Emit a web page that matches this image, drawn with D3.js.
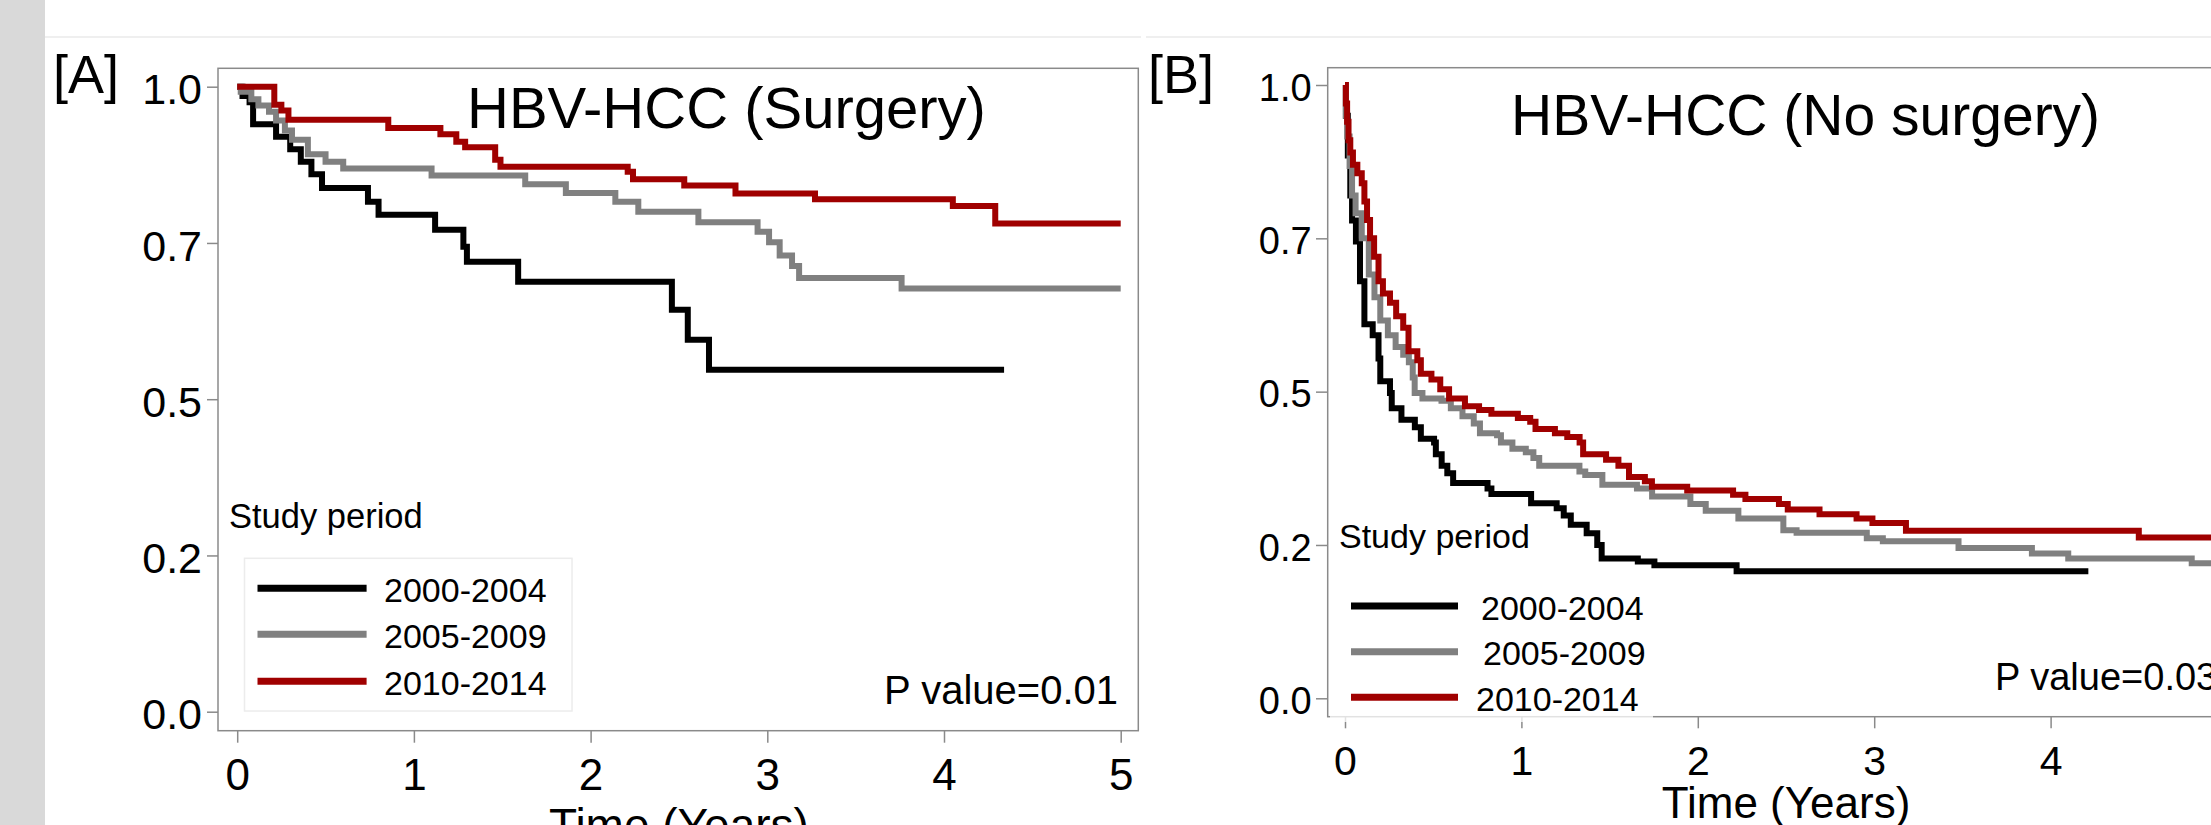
<!DOCTYPE html>
<html>
<head>
<meta charset="utf-8">
<script src="https://cdn.jsdelivr.net/npm/d3@7"></script>
<style>
  html, body { margin: 0; padding: 0; background: #fff; overflow: hidden; }
  svg { display: block; }
  text { font-family: "Liberation Sans", Arial, sans-serif; fill: #000; }
</style>
</head>
<body>
<svg id="chart" width="2211" height="825"></svg>
<script>
// ---------- data ----------
const categories = ["2000-2004", "2005-2009", "2010-2014"];
const seriesColors = ["#000000", "#808080", "#a00000"];
const xTicks = [0, 1, 2, 3, 4, 5];
const yTicks = [0, 0.25, 0.5, 0.75, 1.0];
const yTickLabels = ["0.0", "0.2", "0.5", "0.7", "1.0"];
const panelTitles = ["HBV-HCC (Surgery)", "HBV-HCC (No surgery)"];
const panelLetters = ["[A]", "[B]"];
const pValues = ["P value=0.01", "P value=0.03"];
const legendTitle = "Study period";
const xTitle = "Time (Years)";

// Panel A: surgery  [time (years), survival]
const surgery2000 = [[0,1],[0.03,0.985],[0.07,0.975],[0.09,0.94],[0.22,0.92],[0.30,0.90],[0.36,0.88],[0.42,0.86],[0.48,0.838],[0.74,0.816],[0.80,0.795],[1.12,0.771],[1.28,0.744],[1.30,0.72],[1.59,0.688],[2.46,0.643],[2.55,0.595],[2.67,0.547],[4.34,0.547]];
const surgery2005 = [[0,1],[0.02,0.992],[0.08,0.98],[0.12,0.97],[0.18,0.96],[0.22,0.946],[0.27,0.93],[0.31,0.915],[0.40,0.892],[0.50,0.88],[0.60,0.869],[1.10,0.858],[1.63,0.844],[1.86,0.83],[2.14,0.816],[2.27,0.80],[2.61,0.783],[2.945,0.768],[3.01,0.751],[3.07,0.73],[3.14,0.713],[3.18,0.694],[3.76,0.677],[5.0,0.677]];
const surgery2010 = [[0,1],[0.21,0.971],[0.25,0.962],[0.29,0.947],[0.855,0.934],[1.15,0.924],[1.24,0.912],[1.29,0.903],[1.46,0.883],[1.49,0.872],[2.21,0.864],[2.24,0.852],[2.53,0.842],[2.82,0.829],[3.27,0.82],[4.05,0.809],[4.29,0.781],[5.0,0.781]];

// Panel B: no surgery
const noSurgery2000 = [[0,1],[0.005,0.95],[0.016,0.885],[0.03,0.82],[0.04,0.779],[0.062,0.745],[0.085,0.68],[0.11,0.61],[0.157,0.592],[0.19,0.554],[0.20,0.517],[0.255,0.498],[0.265,0.473],[0.32,0.454],[0.396,0.442],[0.43,0.423],[0.505,0.417],[0.515,0.398],[0.548,0.379],[0.58,0.367],[0.613,0.351],[0.808,0.342],[0.83,0.333],[1.055,0.318],[1.20,0.31],[1.24,0.298],[1.28,0.283],[1.37,0.269],[1.43,0.25],[1.455,0.228],[1.66,0.223],[1.754,0.217],[2.22,0.207],[4.214,0.207]];
const noSurgery2005 = [[0,1],[0.005,0.95],[0.012,0.916],[0.026,0.868],[0.04,0.82],[0.06,0.791],[0.095,0.75],[0.135,0.691],[0.167,0.654],[0.20,0.616],[0.243,0.592],[0.287,0.573],[0.33,0.56],[0.362,0.548],[0.384,0.523],[0.395,0.498],[0.439,0.489],[0.547,0.485],[0.60,0.473],[0.666,0.46],[0.73,0.448],[0.765,0.432],[0.862,0.429],[0.884,0.417],[0.949,0.407],[1.025,0.401],[1.068,0.392],[1.101,0.379],[1.329,0.37],[1.362,0.364],[1.459,0.348],[1.655,0.342],[1.741,0.329],[1.958,0.317],[2.045,0.306],[2.23,0.293],[2.485,0.274],[2.56,0.27],[2.958,0.261],[3.049,0.256],[3.478,0.245],[3.894,0.236],[4.10,0.228],[4.80,0.22],[5.0,0.22]];
const noSurgery2010 = [[0,1],[0.005,0.97],[0.012,0.94],[0.02,0.91],[0.03,0.89],[0.045,0.87],[0.07,0.856],[0.095,0.84],[0.11,0.81],[0.125,0.78],[0.142,0.75],[0.165,0.72],[0.19,0.68],[0.215,0.66],[0.255,0.645],[0.29,0.623],[0.33,0.604],[0.36,0.566],[0.41,0.551],[0.43,0.529],[0.49,0.52],[0.54,0.504],[0.59,0.489],[0.68,0.476],[0.76,0.47],[0.83,0.464],[0.98,0.457],[1.05,0.451],[1.08,0.439],[1.19,0.432],[1.26,0.426],[1.33,0.417],[1.35,0.398],[1.48,0.389],[1.55,0.379],[1.61,0.361],[1.70,0.354],[1.74,0.345],[1.94,0.339],[2.20,0.332],[2.27,0.325],[2.46,0.317],[2.51,0.308],[2.69,0.30],[2.90,0.293],[2.99,0.286],[3.18,0.273],[4.50,0.262],[5.0,0.262]];

// ---------- drawing ----------
const svg = d3.select("#chart");

// page decorations
svg.append("rect").attr("x", 0).attr("y", 0).attr("width", 45).attr("height", 825).attr("fill", "#d9d9d9");
svg.append("line").attr("x1", 45).attr("x2", 1141).attr("y1", 37).attr("y2", 37).attr("stroke", "#efefef").attr("stroke-width", 2);
svg.append("line").attr("x1", 1146).attr("x2", 2211).attr("y1", 37).attr("y2", 37).attr("stroke", "#efefef").attr("stroke-width", 2);

const panels = [
  {
    series: [surgery2000, surgery2005, surgery2010],
    frame: {x0: 218, x1: 1138.3, y0: 68.3, y1: 730.7},
    xr: [237.2, 1120.7], yr: [711.7, 86.7],
    yFont: 43, xFont: 44, xPad: 16.5, yTick: 11, yPad: 5, xTick: 12,
    letter: {x: 53, y: 93, size: 54},
    title: {x: 467, y: 128, size: 58},
    p: {x: 1118, y: 704, size: 40, anchor: "end"},
    xt: {y: 841, size: 46},
    legTitle: {x: 229, y: 528, size: 34.5},
    legBox: {x: 244.5, y: 558.3, w: 327.5, h: 152.7, stroke: "#ececec", op: 1},
    legLine: {x0: 257.5, x1: 366.6, ys: [588.3, 634.3, 681.3]},
    legText: {xs: [384, 384, 384], ys: [601.7, 647.7, 695], size: 34}
  },
  {
    series: [noSurgery2000, noSurgery2005, noSurgery2010],
    frame: {x0: 1327.7, x1: 2244, y0: 67.7, y1: 716.7},
    xr: [1345, 2227], yr: [698.3, 85],
    yFont: 38, xFont: 41, xPad: 17.5, yTick: 11.7, yPad: 4.3, xTick: 11.6,
    letter: {x: 1148, y: 93, size: 54},
    title: {x: 1511, y: 135, size: 57},
    p: {x: 1995, y: 690, size: 38, anchor: "start"},
    xt: {y: 818, size: 44},
    legTitle: {x: 1339, y: 548, size: 34},
    legBox: {x: 1330, y: 580, w: 323, h: 142, stroke: "none", op: 0.75},
    legLine: {x0: 1351, x1: 1458, ys: [606, 651.7, 697.3]},
    legText: {xs: [1481, 1483, 1476], ys: [620, 665, 711], size: 34}
  }
];

panels.forEach((P, pi) => {
  const g = svg.append("g");
  const x = d3.scaleLinear().domain([0, 5]).range(P.xr);
  const y = d3.scaleLinear().domain([0, 1]).range(P.yr);
  const f = P.frame;

  // frame
  g.append("rect")
    .attr("x", f.x0).attr("y", f.y0)
    .attr("width", f.x1 - f.x0).attr("height", f.y1 - f.y0)
    .attr("fill", "#fff").attr("stroke", "#8a8a8a").attr("stroke-width", 1.5);

  // y axis
  const ya = g.append("g").attr("transform", `translate(${f.x0},0)`)
    .call(d3.axisLeft(y).tickValues(yTicks)
      .tickFormat((d, i) => yTickLabels[i])
      .tickSize(P.yTick).tickPadding(P.yPad));
  ya.select(".domain").remove();
  ya.selectAll(".tick line").attr("stroke", "#8a8a8a").attr("stroke-width", 1.5);
  ya.selectAll(".tick text").attr("font-size", P.yFont).attr("dy", "0.4em")
    .attr("font-family", "Liberation Sans, Arial, sans-serif").attr("fill", "#000");

  // x axis
  const xa = g.append("g").attr("transform", `translate(0,${f.y1})`)
    .call(d3.axisBottom(x).tickValues(xTicks).tickFormat(d3.format("d"))
      .tickSize(P.xTick).tickPadding(P.xPad));
  xa.select(".domain").remove();
  xa.selectAll(".tick line").attr("stroke", "#8a8a8a").attr("stroke-width", 1.5);
  xa.selectAll(".tick text").attr("font-size", P.xFont)
    .attr("font-family", "Liberation Sans, Arial, sans-serif").attr("fill", "#000");

  // curves
  const line = d3.line().x(d => x(d[0])).y(d => y(d[1])).curve(d3.curveStepAfter);
  P.series.forEach((s, i) => {
    g.append("path").datum(s)
      .attr("d", line)
      .attr("fill", "none")
      .attr("stroke", seriesColors[i])
      .attr("stroke-width", 6)
      .attr("stroke-linejoin", "miter")
      .attr("stroke-linecap", "butt");
  });

  // legend
  g.append("rect").attr("x", P.legBox.x).attr("y", P.legBox.y)
    .attr("width", P.legBox.w).attr("height", P.legBox.h)
    .attr("fill", "#fff").attr("fill-opacity", P.legBox.op)
    .attr("stroke", P.legBox.stroke).attr("stroke-width", 1.5);
  g.append("text").attr("x", P.legTitle.x).attr("y", P.legTitle.y)
    .attr("font-size", P.legTitle.size).text(legendTitle);
  categories.forEach((c, i) => {
    g.append("line")
      .attr("x1", P.legLine.x0).attr("x2", P.legLine.x1)
      .attr("y1", P.legLine.ys[i]).attr("y2", P.legLine.ys[i])
      .attr("stroke", seriesColors[i]).attr("stroke-width", 7);
    g.append("text").attr("x", P.legText.xs[i]).attr("y", P.legText.ys[i])
      .attr("font-size", P.legText.size).text(c);
  });

  // texts
  g.append("text").attr("x", P.title.x).attr("y", P.title.y)
    .attr("font-size", P.title.size).text(panelTitles[pi]);
  g.append("text").attr("x", P.letter.x).attr("y", P.letter.y)
    .attr("font-size", P.letter.size).text(panelLetters[pi]);
  g.append("text").attr("x", P.p.x).attr("y", P.p.y)
    .attr("text-anchor", P.p.anchor)
    .attr("font-size", P.p.size).text(pValues[pi]);
  g.append("text").attr("x", x(2.5)).attr("y", P.xt.y)
    .attr("text-anchor", "middle")
    .attr("font-size", P.xt.size).text(xTitle);
});
</script>
</body>
</html>
